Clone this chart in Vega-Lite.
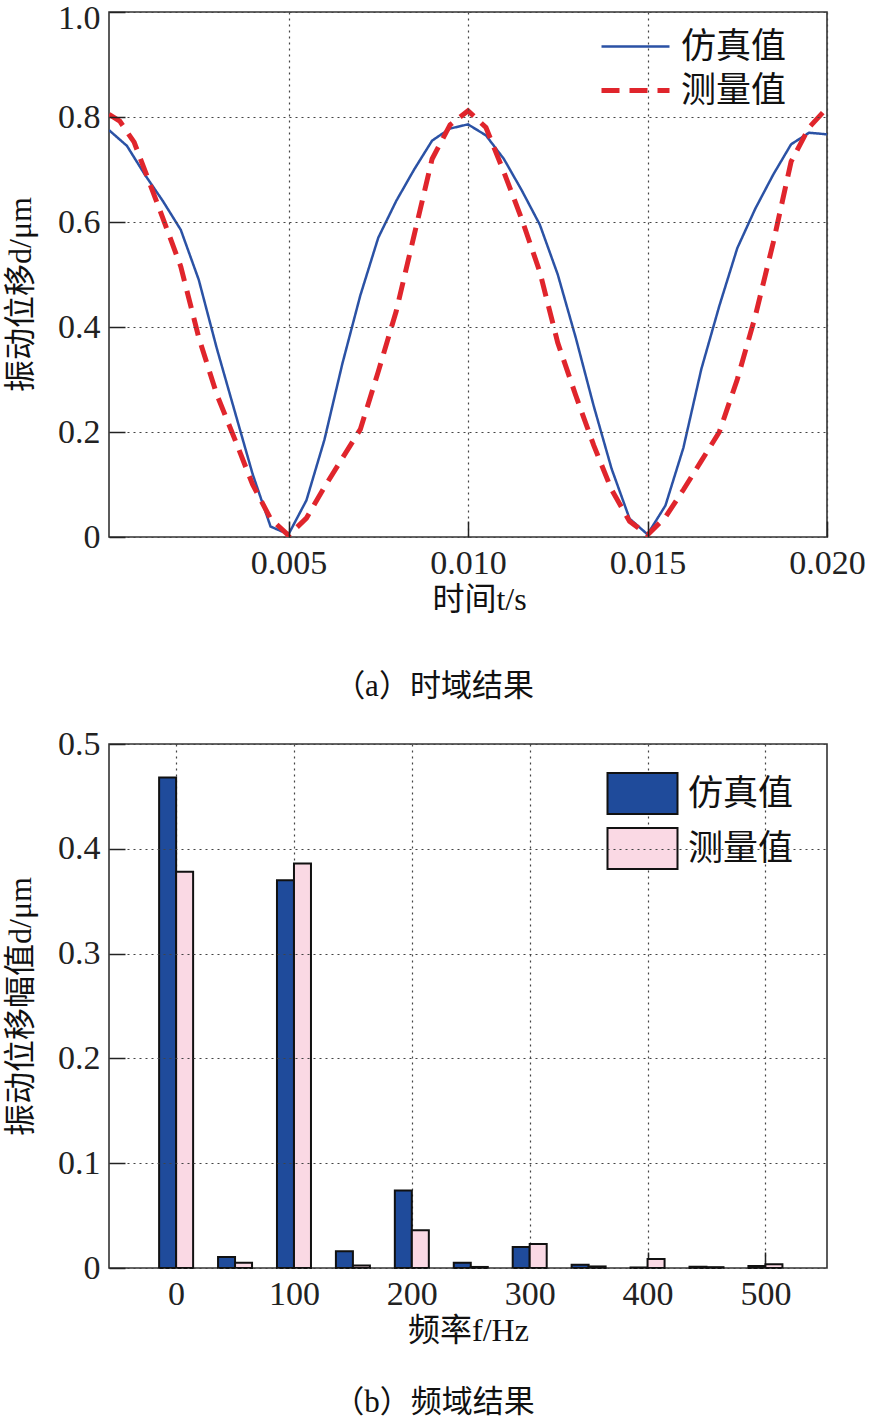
{
  "$schema": "https://vega.github.io/schema/vega-lite/v6.json",
  "background": "white",
  "padding": {"left": 3, "top": 0, "right": 5, "bottom": 2},
  "spacing": 207,
  "bounds": "flush",
  "resolve": {
    "scale": {"color": "independent", "fill": "independent", "strokeDash": "independent", "strokeWidth": "independent"},
    "legend": {"color": "independent", "fill": "independent", "strokeDash": "independent", "strokeWidth": "independent"}
  },
  "config": {
    "view": {"stroke": "#333", "strokeWidth": 1.6},
    "axis": {
      "domain": false,
      "labelFont": "Liberation Serif",
      "labelFontSize": 34,
      "labelColor": "#222",
      "labelFlush": false,
      "labelOverlap": false,
      "ticks": true,
      "tickColor": "#222",
      "tickWidth": 1.5,
      "tickSize": -16,
      "labelPadding": 25,
      "gridColor": "#444",
      "gridDash": [2, 4],
      "gridWidth": 1.2,
      "gridOpacity": 1,
      "titleFont": "Liberation Serif, Noto Sans CJK SC",
      "titleFontSize": 32,
      "titleFontWeight": "normal",
      "titleColor": "#111"
    },
    "legend": {
      "labelFont": "Liberation Serif, Noto Sans CJK SC",
      "labelFontSize": 35,
      "labelColor": "#111",
      "labelLimit": 300,
      "padding": 0
    }
  },
  "vconcat": [
    {
      "width": 718,
      "height": 525,
      "title": {"text": "（a）时域结果", "orient": "bottom", "offset": 57, "dx": -34, "fontSize": 31, "font": "Liberation Serif, Noto Sans CJK SC", "fontWeight": "normal", "anchor": "middle", "color": "#111"},
      "data": {"values": [
        {"t": 0, "d": 0.775, "s": "仿真值"},
        {"t": 0.0005, "d": 0.745, "s": "仿真值"},
        {"t": 0.001, "d": 0.69, "s": "仿真值"},
        {"t": 0.0015, "d": 0.64, "s": "仿真值"},
        {"t": 0.002, "d": 0.585, "s": "仿真值"},
        {"t": 0.0025, "d": 0.49, "s": "仿真值"},
        {"t": 0.003, "d": 0.36, "s": "仿真值"},
        {"t": 0.0035, "d": 0.24, "s": "仿真值"},
        {"t": 0.004, "d": 0.12, "s": "仿真值"},
        {"t": 0.0045, "d": 0.02, "s": "仿真值"},
        {"t": 0.005, "d": 0.005, "s": "仿真值"},
        {"t": 0.0055, "d": 0.07, "s": "仿真值"},
        {"t": 0.006, "d": 0.185, "s": "仿真值"},
        {"t": 0.0065, "d": 0.33, "s": "仿真值"},
        {"t": 0.007, "d": 0.46, "s": "仿真值"},
        {"t": 0.0075, "d": 0.57, "s": "仿真值"},
        {"t": 0.008, "d": 0.64, "s": "仿真值"},
        {"t": 0.0085, "d": 0.7, "s": "仿真值"},
        {"t": 0.009, "d": 0.755, "s": "仿真值"},
        {"t": 0.0095, "d": 0.778, "s": "仿真值"},
        {"t": 0.01, "d": 0.786, "s": "仿真值"},
        {"t": 0.0105, "d": 0.765, "s": "仿真值"},
        {"t": 0.011, "d": 0.72, "s": "仿真值"},
        {"t": 0.0115, "d": 0.66, "s": "仿真值"},
        {"t": 0.012, "d": 0.595, "s": "仿真值"},
        {"t": 0.0125, "d": 0.5, "s": "仿真值"},
        {"t": 0.013, "d": 0.38, "s": "仿真值"},
        {"t": 0.0135, "d": 0.25, "s": "仿真值"},
        {"t": 0.014, "d": 0.13, "s": "仿真值"},
        {"t": 0.0145, "d": 0.035, "s": "仿真值"},
        {"t": 0.015, "d": 0.005, "s": "仿真值"},
        {"t": 0.0155, "d": 0.06, "s": "仿真值"},
        {"t": 0.016, "d": 0.17, "s": "仿真值"},
        {"t": 0.0165, "d": 0.32, "s": "仿真值"},
        {"t": 0.017, "d": 0.44, "s": "仿真值"},
        {"t": 0.0175, "d": 0.55, "s": "仿真值"},
        {"t": 0.018, "d": 0.625, "s": "仿真值"},
        {"t": 0.0185, "d": 0.69, "s": "仿真值"},
        {"t": 0.019, "d": 0.748, "s": "仿真值"},
        {"t": 0.0195, "d": 0.77, "s": "仿真值"},
        {"t": 0.02, "d": 0.767, "s": "仿真值"},
        {"t": 0, "d": 0.805, "s": "测量值"},
        {"t": 0.0003, "d": 0.792, "s": "测量值"},
        {"t": 0.0007, "d": 0.752, "s": "测量值"},
        {"t": 0.0011, "d": 0.68, "s": "测量值"},
        {"t": 0.0016, "d": 0.589, "s": "测量值"},
        {"t": 0.002, "d": 0.515, "s": "测量值"},
        {"t": 0.0025, "d": 0.38, "s": "测量值"},
        {"t": 0.003, "d": 0.272, "s": "测量值"},
        {"t": 0.0035, "d": 0.187, "s": "测量值"},
        {"t": 0.004, "d": 0.1, "s": "测量值"},
        {"t": 0.0045, "d": 0.035, "s": "测量值"},
        {"t": 0.005, "d": 0.003, "s": "测量值"},
        {"t": 0.0055, "d": 0.036, "s": "测量值"},
        {"t": 0.006, "d": 0.095, "s": "测量值"},
        {"t": 0.0065, "d": 0.15, "s": "测量值"},
        {"t": 0.007, "d": 0.205, "s": "测量值"},
        {"t": 0.0075, "d": 0.315, "s": "测量值"},
        {"t": 0.008, "d": 0.43, "s": "测量值"},
        {"t": 0.0085, "d": 0.575, "s": "测量值"},
        {"t": 0.009, "d": 0.72, "s": "测量值"},
        {"t": 0.0095, "d": 0.785, "s": "测量值"},
        {"t": 0.01, "d": 0.812, "s": "测量值"},
        {"t": 0.0105, "d": 0.78, "s": "测量值"},
        {"t": 0.011, "d": 0.695, "s": "测量值"},
        {"t": 0.0115, "d": 0.605, "s": "测量值"},
        {"t": 0.012, "d": 0.505, "s": "测量值"},
        {"t": 0.0125, "d": 0.37, "s": "测量值"},
        {"t": 0.013, "d": 0.27, "s": "测量值"},
        {"t": 0.0135, "d": 0.175, "s": "测量值"},
        {"t": 0.014, "d": 0.09, "s": "测量值"},
        {"t": 0.0145, "d": 0.03, "s": "测量值"},
        {"t": 0.015, "d": 0.004, "s": "测量值"},
        {"t": 0.0155, "d": 0.038, "s": "测量值"},
        {"t": 0.016, "d": 0.09, "s": "测量值"},
        {"t": 0.0165, "d": 0.145, "s": "测量值"},
        {"t": 0.017, "d": 0.2, "s": "测量值"},
        {"t": 0.0175, "d": 0.3, "s": "测量值"},
        {"t": 0.018, "d": 0.42, "s": "测量值"},
        {"t": 0.0185, "d": 0.56, "s": "测量值"},
        {"t": 0.019, "d": 0.715, "s": "测量值"},
        {"t": 0.0195, "d": 0.78, "s": "测量值"},
        {"t": 0.02, "d": 0.817, "s": "测量值"}
      ]},
      "mark": {"type": "line", "clip": true},
      "encoding": {
        "x": {"field": "t", "type": "quantitative", "scale": {"domain": [0, 0.02], "nice": false, "zero": false},
              "axis": {"title": "时间t/s", "values": [0.005, 0.01, 0.015, 0.02], "format": ".3f", "titlePadding": 4, "titleX": 370, "tickSize": -16, "zindex": 1}},
        "y": {"field": "d", "type": "quantitative", "scale": {"domain": [0, 1], "nice": false},
              "axis": {"title": "振动位移d/μm", "values": [0, 0.2, 0.4, 0.6, 0.8, 1.0], "labelExpr": "datum.value == 0 ? '0' : format(datum.value, '.1f')", "titlePadding": 20, "titleY": 282, "tickSize": -16, "zindex": 1,
                       "labelOffset": {"condition": {"test": "datum.value >= 1", "value": 6}, "value": 0}}},
        "color": {"field": "s", "type": "nominal", "scale": {"domain": ["仿真值", "测量值"], "range": ["#2b52a5", "#e0252c"]},
                  "legend": {"title": null, "orient": "none", "legendX": 507, "legendY": 16, "symbolType": "M-2,0H2", "symbolSize": 1156, "labelOffset": 26, "rowPadding": 6}},
        "strokeDash": {"field": "s", "type": "nominal", "scale": {"domain": ["仿真值", "测量值"], "range": [[1, 0], [18, 10]]},
                  "legend": {"title": null, "orient": "none", "legendX": 507, "legendY": 16, "symbolType": "M-2,0H2", "symbolSize": 1156, "labelOffset": 26, "rowPadding": 6}},
        "strokeWidth": {"field": "s", "type": "nominal", "scale": {"domain": ["仿真值", "测量值"], "range": [2.5, 5]},
                  "legend": {"title": null, "orient": "none", "legendX": 507, "legendY": 16, "symbolType": "M-2,0H2", "symbolSize": 1156, "labelOffset": 26, "rowPadding": 6}}
      }
    },
    {
      "width": 718,
      "height": 524,
      "title": {"text": "（b）频域结果", "orient": "bottom", "offset": 42, "dx": -34, "fontSize": 31, "font": "Liberation Serif, Noto Sans CJK SC", "fontWeight": "normal", "anchor": "middle", "color": "#111"},
      "data": {"values": [
        {"f": 0, "v": 0.468, "s": "仿真值"},
        {"f": 50, "v": 0.0105, "s": "仿真值"},
        {"f": 100, "v": 0.37, "s": "仿真值"},
        {"f": 150, "v": 0.016, "s": "仿真值"},
        {"f": 200, "v": 0.074, "s": "仿真值"},
        {"f": 250, "v": 0.005, "s": "仿真值"},
        {"f": 300, "v": 0.02, "s": "仿真值"},
        {"f": 350, "v": 0.003, "s": "仿真值"},
        {"f": 400, "v": 0.0005, "s": "仿真值"},
        {"f": 450, "v": 0.0012, "s": "仿真值"},
        {"f": 500, "v": 0.002, "s": "仿真值"},
        {"f": 0, "v": 0.378, "s": "测量值"},
        {"f": 50, "v": 0.005, "s": "测量值"},
        {"f": 100, "v": 0.386, "s": "测量值"},
        {"f": 150, "v": 0.0025, "s": "测量值"},
        {"f": 200, "v": 0.036, "s": "测量值"},
        {"f": 250, "v": 0.001, "s": "测量值"},
        {"f": 300, "v": 0.023, "s": "测量值"},
        {"f": 350, "v": 0.0015, "s": "测量值"},
        {"f": 400, "v": 0.0085, "s": "测量值"},
        {"f": 450, "v": 0.0008, "s": "测量值"},
        {"f": 500, "v": 0.0035, "s": "测量值"}
      ]},
      "encoding": {
        "x": {"field": "f", "type": "quantitative", "scale": {"domain": [-52.7, 548], "nice": false, "zero": false},
              "axis": {"title": "频率f/Hz", "values": [0, 100, 200, 300, 400, 500], "format": "d", "titlePadding": 4, "tickSize": -16}},
        "y": {"field": "v", "type": "quantitative", "scale": {"domain": [0, 0.5], "nice": false},
              "axis": {"title": "振动位移幅值d/μm", "values": [0, 0.1, 0.2, 0.3, 0.4, 0.5], "labelExpr": "datum.value == 0 ? '0' : format(datum.value, '.1f')", "titlePadding": 20, "tickSize": -16, "zindex": 1}},
        "fill": {"field": "s", "type": "nominal", "scale": {"domain": ["仿真值", "测量值"], "range": ["#1f4b9b", "#fad9e4"]},
                 "legend": {"title": null, "orient": "none", "legendX": 515, "legendY": 31, "symbolType": "M-2,-1.17H2V1.17H-2Z", "symbolSize": 1225, "labelOffset": 27, "rowPadding": 6, "symbolStrokeColor": "#111", "symbolStrokeWidth": 2,
                            "encode": {"symbols": {"update": {"stroke": {"value": "#111"}, "strokeWidth": {"value": 2}}}}}}
      },
      "layer": [
        {"transform": [{"filter": "datum.s == '仿真值'"}],
         "mark": {"type": "bar", "width": 17, "xOffset": -8.5, "stroke": "#111", "strokeWidth": 2}},
        {"transform": [{"filter": "datum.s == '测量值'"}],
         "mark": {"type": "bar", "width": 17, "xOffset": 8.5, "stroke": "#111", "strokeWidth": 2}}
      ]
    }
  ]
}
